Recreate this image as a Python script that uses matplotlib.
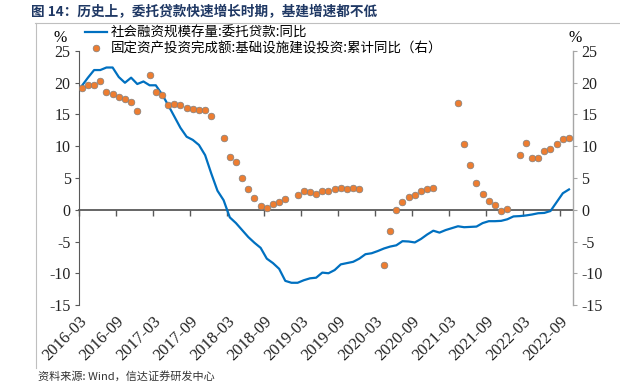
"""Entrusted loans YoY vs infrastructure investment YoY."""

import numpy as np
import matplotlib
matplotlib.use("Agg")
import matplotlib.pyplot as plt
from matplotlib.lines import Line2D

plt.rcParams['axes.unicode_minus'] = False

SERIF = ['Liberation Serif', 'DejaVu Serif']
CJK = ['Noto Sans CJK SC', 'DejaVu Sans']

# month index 0 = 2016-03 ... 79 = 2022-10
tick_labels = ['2016-03', '2016-09', '2017-03', '2017-09', '2018-03', '2018-09',
               '2019-03', '2019-09', '2020-03', '2020-09', '2021-03', '2021-09',
               '2022-03', '2022-09']

loan_yoy = [19.5, 20.8, 22.0, 22.0, 22.4, 22.4, 20.9, 20.0, 20.8, 19.8,
            20.2, 19.6, 19.6, 18.2, 16.5, 14.7, 12.9, 11.5, 11.0, 10.2,
            8.6, 5.7, 3.0, 1.5, -1.2, -2.1, -3.2, -4.3, -5.2, -6.0,
            -7.7, -8.4, -9.3, -11.2, -11.5, -11.5, -11.1, -10.8, -10.7, -9.9,
            -10.0, -9.5, -8.6, -8.4, -8.2, -7.7, -7.0, -6.85, -6.5, -6.1,
            -5.8, -5.6, -4.95, -5.0, -5.15, -4.6, -3.9, -3.3, -3.6, -3.2,
            -2.9, -2.6, -2.75, -2.7, -2.65, -2.1, -1.8, -1.8, -1.75, -1.5,
            -1.05, -1.0, -0.9, -0.75, -0.55, -0.5, -0.2, 1.2, 2.6, 3.2]

nan = np.nan
infra_yoy = [19.2, 19.65, 19.65, 20.2, 18.6, 18.3, 17.8, 17.4, 17.0, 15.6,
             nan,
             21.2, 18.5, 18.1, 16.5, 16.7, 16.5, 16.0, 15.8, 15.75, 15.75, 14.8,
             nan,
             11.25, 8.25, 7.5, 5.05, 3.3, 1.8, 0.65, 0.2, 0.9, 1.15, 1.7,
             nan,
             2.4, 2.9, 2.85, 2.5, 2.9, 2.9, 3.2, 3.4, 3.3, 3.5, 3.3,
             nan, nan, nan,
             -8.75, -3.3, -0.05, 1.15, 2.05, 2.4, 3.0, 3.25, 3.4,
             nan, nan, nan,
             16.8, 10.3, 7.1, 4.15, 2.55, 1.45, 0.7, -0.25, 0.15,
             nan,
             8.55, 10.45, 8.2, 8.1, 9.25, 9.55, 10.3, 11.1, 11.35]

BLUE = '#0070C0'
ORANGE = '#ED7D31'

fig = plt.figure(figsize=(6.2, 3.82), dpi=100)
ax = fig.add_axes([79 / 620, 1 - 305 / 382, (573 - 79) / 620, (305 - 51) / 382])
ax2 = ax.twinx()

x = np.arange(len(loan_yoy)) + 0.45
ax.plot(x, loan_yoy, color=BLUE, lw=1.6, solid_joinstyle='round', zorder=3)
ax2.plot(x, infra_yoy, ls='none', marker='o', ms=4.8, mfc=ORANGE,
         mec='#7f7f7f', mew=0.5, zorder=4)

for a in (ax, ax2):
    a.set_ylim(-15, 25)
    a.set_yticks(np.arange(-15, 26, 5))
    a.set_xlim(0, 80.1)
    a.patch.set_visible(False)
    a.spines['top'].set_visible(False)

ax.spines['right'].set_visible(False)
ax2.spines['left'].set_visible(False)
ax2.spines['bottom'].set_visible(False)
ax.spines['left'].set_color('#595959')
ax2.spines['right'].set_color('#a6a6a6')
ax2.spines['right'].set_linewidth(1.0)

ax.spines['bottom'].set_position(('data', 0))
ax.spines['bottom'].set_color('#595959')
ax.spines['bottom'].set_linewidth(1.3)

ticks = np.arange(0, 6 * len(tick_labels), 6)
ax.set_xticks(ticks)
ax.tick_params(axis='x', direction='out', length=4, width=1, color='#595959',
               labelbottom=False)
ax.tick_params(axis='y', direction='out', length=3, color='#595959', pad=3)
ax2.tick_params(axis='y', direction='out', length=3, color='#a6a6a6', pad=3)

for lab in ax.get_yticklabels() + ax2.get_yticklabels():
    lab.set_fontfamily(SERIF)
    lab.set_fontsize(11.5)
    lab.set_color('#222222')

sec = ax.secondary_xaxis('bottom')
sec.set_xticks(ticks, tick_labels)
sec.spines['bottom'].set_visible(False)
sec.tick_params(length=0, pad=6)
for lab in sec.get_xticklabels():
    lab.set_fontfamily(SERIF)
    lab.set_fontsize(12)
    lab.set_rotation(45)
    lab.set_rotation_mode('anchor')
    lab.set_ha('right')
    lab.set_va('top')
    lab.set_color('#222222')

fig.text(60 / 620, 1 - 38 / 382, '%', family=SERIF, fontsize=11.5,
         ha='center', va='center')
fig.text(575 / 620, 1 - 38 / 382, '%', family=SERIF, fontsize=11.5,
         ha='center', va='center')

handles = [Line2D([], [], color=BLUE, lw=1.6),
           Line2D([], [], ls='none', marker='o', ms=4.8, mfc=ORANGE,
                  mec='#7f7f7f', mew=0.5)]
labels = ['社会融资规模存量:委托贷款:同比',
          '固定资产投资完成额:基础设施建设投资:累计同比（右）']
fig.legend(handles, labels, loc='upper left',
           bbox_to_anchor=(85 / 620, 1 - 26 / 382), frameon=False,
           prop={'family': CJK, 'size': 9.7}, handlelength=1.6,
           handletextpad=0.3, labelspacing=0.15, borderaxespad=0,
           borderpad=0, numpoints=1)

fig.text(31 / 620, 1 - 12 / 382, '图 14：历史上，委托贷款快速增长时期，基建增速都不低',
         family=CJK, fontsize=9.8, fontweight='bold', color='#1F3864',
         ha='left', va='center')

# frame around the chart body
fig.add_artist(Line2D([35 / 620, 1], [1 - 22.5 / 382, 1 - 22.5 / 382],
                      color='#bfbfbf', lw=0.8))
fig.add_artist(Line2D([35.5 / 620, 35.5 / 620], [1 - 22.5 / 382, 1 - 368 / 382],
                      color='#bfbfbf', lw=0.8))

fig.text(38 / 620, 1 - 371 / 382, '资料来源: Wind，信达证券研发中心',
         family=CJK, fontsize=8, color='#333333', ha='left', va='top')

fig.savefig('out.png', dpi=100)
